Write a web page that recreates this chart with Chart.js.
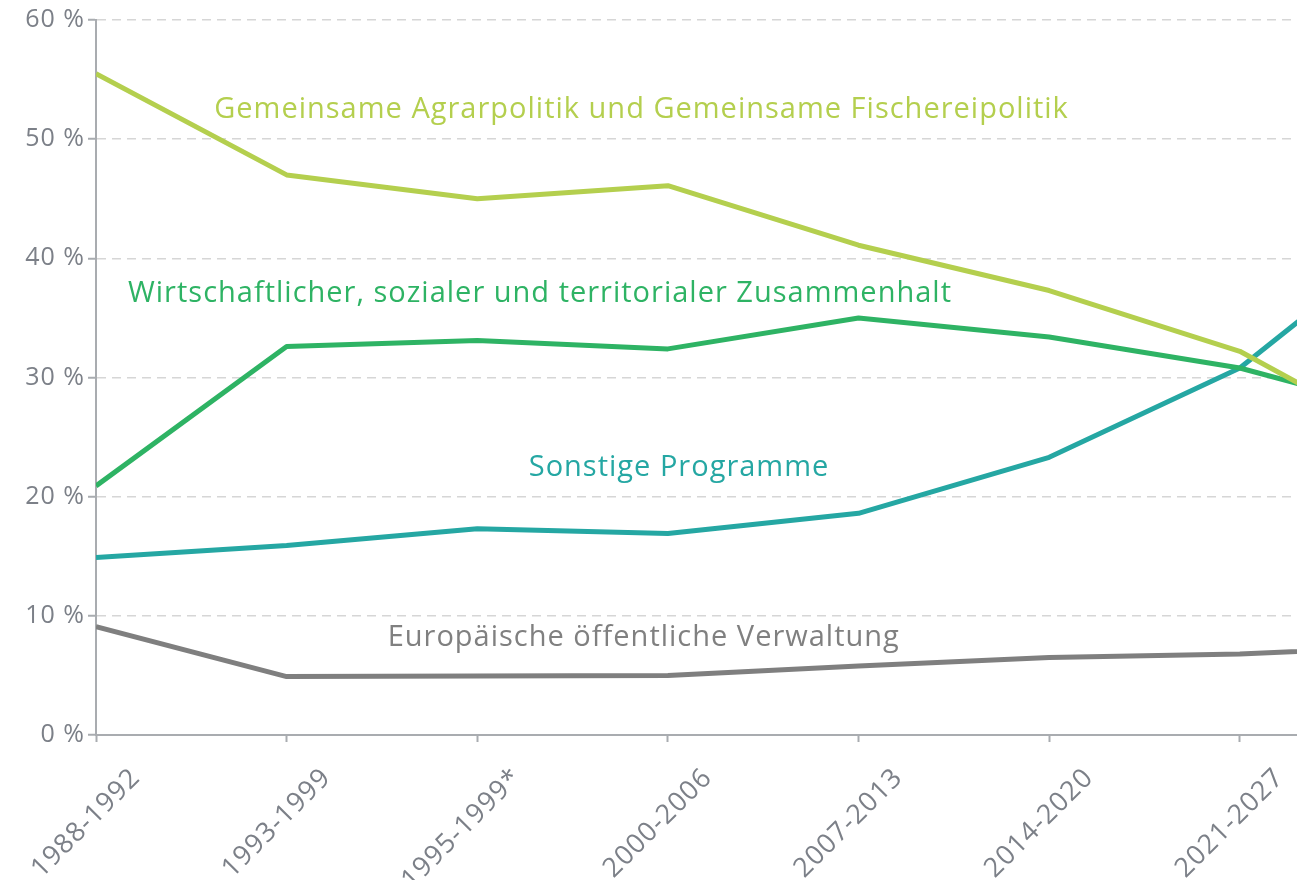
<!DOCTYPE html>
<html lang="de">
<head>
<meta charset="utf-8">
<title>Anteile am EU-Haushalt</title>
<script src="https://cdn.jsdelivr.net/npm/chart.js@4.4.1/dist/chart.umd.min.js"></script>
<style>
  html, body { margin: 0; padding: 0; background: #fff; }
  #wrap { width: 1297px; height: 880px; position: relative; }
</style>
</head>
<body>
<div id="wrap"><canvas id="chart"></canvas></div>
<script>
// Programmplanungszeiträume (x-Achse)
const periods = ["1988-1992", "1993-1999", "1995-1999*", "2000-2006", "2007-2013", "2014-2020", "2021-2027"];

// Anteile in %, der letzte Wert liegt rechts außerhalb des Bildausschnitts
const agrar = [55.5, 47.0, 45.0, 46.1, 41.1, 37.3, 32.2, 23.5];
const kohaesion = [20.9, 32.6, 33.1, 32.4, 35.0, 33.4, 30.8, 26.5];
const sonstige = [14.9, 15.9, 17.3, 16.9, 18.6, 23.3, 30.8, 43.5];
const verwaltung = [9.1, 4.9, 4.95, 5.0, 5.8, 6.5, 6.8, 7.5];

const yTicks = [0, 10, 20, 30, 40, 50, 60];

const FONT = "'Open Sans', 'DejaVu Sans', sans-serif";
const TEXT_GREY = "#7c8088";
const AXIS_GREY = "#a9acb0";

const colors = {
  agrar: "#b4cf4e",
  kohaesion: "#2eb364",
  sonstige: "#25a7a3",
  verwaltung: "#7f7f7f",
};

// Beschriftungen direkt im Diagramm (Position in Achsenwerten)
const seriesLabels = [
  { text: "Gemeinsame Agrarpolitik und Gemeinsame Fischereipolitik", x: 0.62, y: 51.8, color: colors.agrar },
  { text: "Wirtschaftlicher, sozialer und territorialer Zusammenhalt", x: 0.168, y: 36.3, color: colors.kohaesion },
  { text: "Sonstige Programme", x: 2.27, y: 21.7, color: colors.sonstige },
  { text: "Europäische öffentliche Verwaltung", x: 1.53, y: 7.5, color: "#808080" },
];

const toPoints = (arr) => arr.map((v, i) => ({ x: i, y: v }));

const line = (label, values, color) => ({
  label,
  data: toPoints(values),
  borderColor: color,
  backgroundColor: color,
  borderWidth: 5,
  pointRadius: 0,
  pointHoverRadius: 0,
  tension: 0,
  borderJoinStyle: "round",
  borderCapStyle: "butt",
});

// etwas breitere Schrift, damit die Laufweite dem Original entspricht
const spacing = {
  id: "spacing",
  beforeUpdate(chart) {
    chart.ctx.letterSpacing = "1px";
  },
  beforeDraw(chart) {
    chart.ctx.letterSpacing = "1px";
  },
};

const inlineLabels = {
  id: "inlineLabels",
  afterDatasetsDraw(chart) {
    const { ctx, scales } = chart;
    ctx.save();
    ctx.font = `29px ${FONT}`;
    ctx.letterSpacing = "1px";
    ctx.textAlign = "left";
    ctx.textBaseline = "alphabetic";
    seriesLabels.forEach((l) => {
      ctx.fillStyle = l.color;
      ctx.fillText(l.text, scales.x.getPixelForValue(l.x), scales.y.getPixelForValue(l.y));
    });
    ctx.restore();
  },
};

new Chart(document.getElementById("chart"), {
  type: "line",
  data: {
    datasets: [
      line("Gemeinsame Agrarpolitik und Gemeinsame Fischereipolitik", agrar, colors.agrar),
      line("Wirtschaftlicher, sozialer und territorialer Zusammenhalt", kohaesion, colors.kohaesion),
      line("Sonstige Programme", sonstige, colors.sonstige),
      line("Europäische öffentliche Verwaltung", verwaltung, colors.verwaltung),
    ],
  },
  options: {
    responsive: true,
    maintainAspectRatio: false,
    animation: false,
    layout: { padding: { top: 20, right: 0, left: 0, bottom: 0 } },
    plugins: {
      legend: { display: false },
      tooltip: { enabled: false },
    },
    scales: {
      x: {
        type: "linear",
        min: 0,
        max: 6.3,
        border: { color: AXIS_GREY, width: 2 },
        grid: {
          drawOnChartArea: false,
          drawTicks: true,
          tickLength: 7,
          tickColor: AXIS_GREY,
          tickWidth: 2,
        },
        afterBuildTicks: (scale) => {
          scale.ticks = periods.map((_, i) => ({ value: i }));
        },
        afterFit: (scale) => {
          scale.height = 145;
          scale.paddingLeft = 0;
          scale.paddingRight = 0;
        },
        ticks: {
          autoSkip: false,
          minRotation: 45,
          maxRotation: 45,
          padding: 20,
          labelOffset: 40,
          color: TEXT_GREY,
          font: { family: FONT, size: 27 },
          callback: (v) => periods[v] ?? "",
        },
      },
      y: {
        min: 0,
        max: 60,
        border: { color: AXIS_GREY, width: 2, dash: [9, 6] },
        grid: {
          color: "#d6d6d6",
          lineWidth: 1.5,
          tickColor: AXIS_GREY,
          tickWidth: 2,
          tickLength: 8,
          tickBorderDash: [],
        },
        afterBuildTicks: (scale) => {
          scale.ticks = yTicks.map((v) => ({ value: v }));
        },
        afterFit: (scale) => {
          scale.width = 96;
        },
        ticks: {
          padding: 3,
          color: TEXT_GREY,
          font: { family: FONT, size: 25 },
          callback: (v) => `${v} %`,
        },
      },
    },
  },
  plugins: [spacing, inlineLabels],
});
</script>
</body>
</html>
